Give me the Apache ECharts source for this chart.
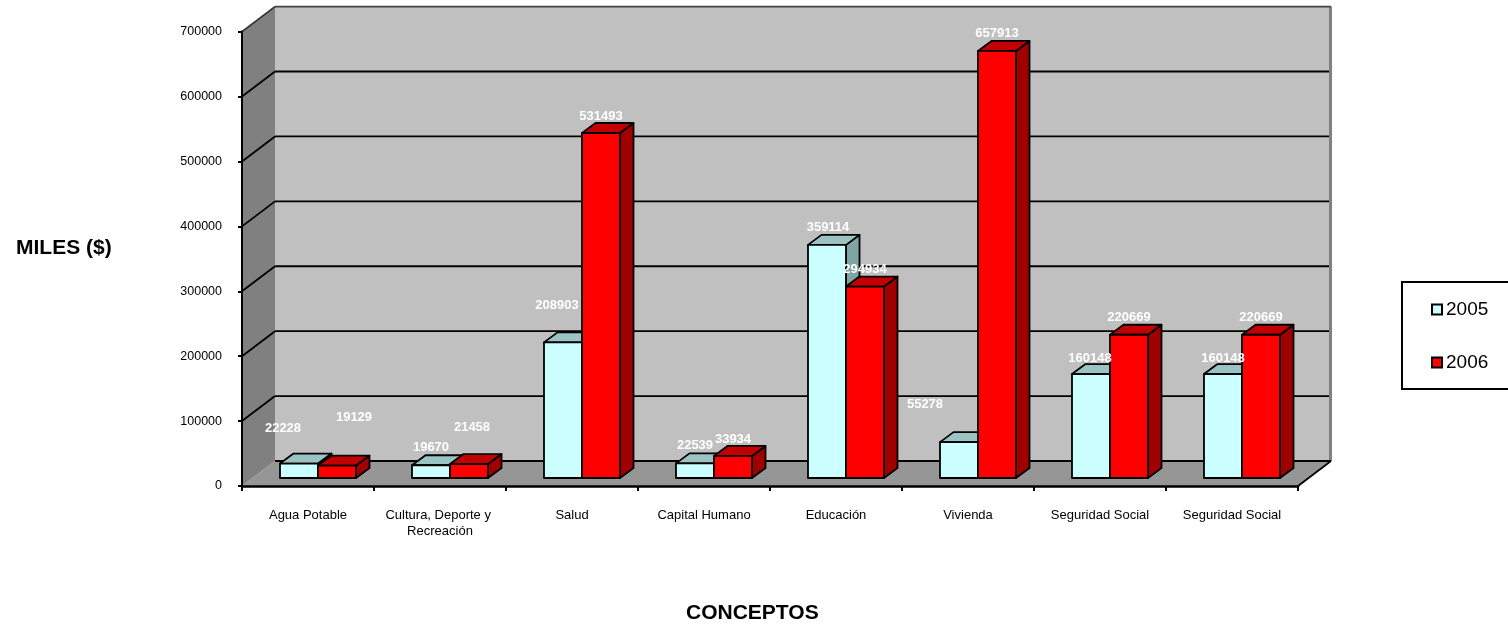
<!DOCTYPE html>
<html><head><meta charset="utf-8">
<style>html,body{margin:0;padding:0;background:#fff}#c{width:1508px;height:627px}</style>
<script src="https://cdn.jsdelivr.net/npm/echarts@6/dist/echarts.min.js"></script>
</head><body><div id="c"></div>
<script>
const categories = ['Agua Potable','Cultura, Deporte y Recreación','Salud','Capital Humano','Educación','Vivienda','Seguridad Social','Seguridad Social'];
const values2005 = [22228,19670,208903,22539,359114,55278,160148,160148];
const values2006 = [19129,21458,531493,33934,294934,657913,220669,220669];
const yTicks = [100000,200000,300000,400000,500000,600000,700000];
// where each white data label sits relative to the top of its bar (as in the source chart)
const labelShift2005 = [[-16,-35],[0,-18],[-6,-37],[0,-18],[1,-17],[-34,-38],[-1,-16],[0,-16]];
const labelShift2006 = [[17,-48],[3,-37],[0,-17],[0,-17],[0,-17],[0,-17],[0,-17],[0,-17]];

const WALL_DX = 33, WALL_DY = -25;      // depth of the 3D box
const BAR_DX = 13.5, BAR_DY = -10;      // depth of one bar
const BASE_DX = 10, BASE_DY = -8;       // bars stand this far back on the floor
const BAR_W = 38 / 132;                 // bar width as share of a category band
const FONT = '"Liberation Sans", Arial, sans-serif';

function poly(points, fill, stroke, lw, z2) {
  return {type:'polygon', z2: z2||0, shape:{points}, style:{fill, stroke: stroke||'none', lineWidth: lw||0, lineJoin:'round'}};
}
function line(x1,y1,x2,y2,stroke,lw,z2){
  return {type:'line', z2: z2||1, shape:{x1,y1,x2,y2}, style:{stroke, lineWidth:lw}};
}

function renderWalls(params, api) {
  const g = params.coordSys, x0 = g.x, x1 = g.x + g.width, yB = g.y + g.height, yT = g.y;
  const d = [WALL_DX, WALL_DY];
  return {type:'group', children:[
    poly([[x0+d[0],yT+d[1]],[x1+d[0],yT+d[1]],[x1+d[0],yB+d[1]],[x0+d[0],yB+d[1]]], '#C0C0C0'),
    poly([[x0,yB],[x0+d[0],yB+d[1]],[x0+d[0],yT+d[1]],[x0,yT]], '#808080'),
    poly([[x0,yB],[x0+d[0],yB+d[1]],[x1+d[0],yB+d[1]],[x1,yB]], '#969696'),
    line(x1+d[0]-0.5,yT+d[1],x1+d[0]-0.5,yB+d[1],'#808080',3),
    line(x0+d[0],yB+d[1],x1+d[0],yB+d[1],'#000',1.8),
    line(x1,yB,x1+d[0],yB+d[1],'#000',1.8)
  ]};
}
function renderGrid(params, api) {
  const g = params.coordSys, x0 = g.x, x1 = g.x + g.width;
  const y = api.coord([0, api.value(1)])[1];
  const top = api.value(1) === 700000;
  return {type:'group', children:[
    line(x0,y,x0+WALL_DX,y+WALL_DY, top ? '#333' : '#000', 1.8),
    line(x0+WALL_DX,y+WALL_DY,x1+WALL_DX-(top?0:2),y+WALL_DY, top ? '#444' : '#000', 1.8)
  ]};
}
function barRenderer(slot, front, topC, sideC, shifts) {
  return function(params, api) {
    const i = api.value(0), v = api.value(1);
    const band = api.size([1,0])[0], w = band * BAR_W;
    const c = api.coord([i, v]), b = api.coord([i, 0]);
    const xl = c[0] + BASE_DX + (slot - 1) * w, xr = xl + w;
    const yt = c[1] + BASE_DY, yb = b[1] + BASE_DY;
    const dx = BAR_DX, dy = BAR_DY;
    const s = shifts[params.dataIndex];
    return {type:'group', children:[
      poly([[xr,yt],[xr+dx,yt+dy],[xr+dx,yb+dy],[xr,yb]], sideC, '#000', 1.8, 1),
      poly([[xl,yt],[xl+dx,yt+dy],[xr+dx,yt+dy],[xr,yt]], topC, '#000', 1.8, 1),
      poly([[xl,yt],[xr,yt],[xr,yb],[xl,yb]], front, '#000', 1.8, 2),
      {type:'text', z2:100, style:{text:String(v), x:(xl+xr)/2+s[0], y:yt+s[1], fill:'#fff',
        font:'bold 13px '+FONT, align:'center', verticalAlign:'middle'}}
    ]};
  };
}

const titleStyle = {fontFamily:FONT, fontWeight:'bold', fontSize:21, color:'#000'};
const chart = echarts.init(document.getElementById('c'), null, {renderer:'canvas'});
chart.setOption({
  animation:false,
  backgroundColor:'#fff',
  title:[
    {text:'MILES ($)', left:16, top:238, padding:0, textStyle:titleStyle},
    {text:'CONCEPTOS', left:686, top:603, padding:0, textStyle:titleStyle}
  ],
  grid:{left:242, top:31.6, width:1056, height:454.4, containLabel:false, outerBoundsMode:'none'},
  xAxis:{type:'category', data:categories, boundaryGap:true, z:5,
    axisLine:{show:true, lineStyle:{color:'#000', width:2.5}},
    axisTick:{show:true, length:5, alignWithLabel:false, lineStyle:{color:'#000', width:2}},
    axisLabel:{interval:0, color:'#000', fontFamily:FONT, fontSize:13, margin:21, width:124, overflow:'break', lineHeight:16},
    splitLine:{show:false}
  },
  yAxis:{type:'value', min:0, max:700000, interval:100000, z:5,
    axisLine:{show:true, lineStyle:{color:'#000', width:2}},
    axisTick:{show:true, length:4, lineStyle:{color:'#000', width:2}},
    axisLabel:{color:'#000', fontFamily:FONT, fontSize:12.5, margin:20, formatter:v=>String(v)},
    splitLine:{show:false}
  },
  legend:{left:1402, top:282, orient:'vertical', itemWidth:10, itemHeight:10, itemGap:34,
    padding:[18,25,17,29], borderColor:'#000', borderWidth:2, backgroundColor:'#fff',
    textStyle:{fontFamily:FONT, fontSize:19, color:'#000', padding:[0,0,0,-1]},
    data:[
      {name:'2005', icon:'rect', itemStyle:{color:'#CCFFFF', borderColor:'#000', borderWidth:2}},
      {name:'2006', icon:'rect', itemStyle:{color:'#FF0000', borderColor:'#000', borderWidth:2}}
    ]},
  series:[
    {type:'custom', name:'walls', silent:true, clip:false, z:1, renderItem:renderWalls, data:[[0,0]]},
    {type:'custom', name:'grid', silent:true, clip:false, z:1.5, renderItem:renderGrid,
      data:yTicks.map(t=>[0,t]), encode:{x:0,y:1}},
    {type:'custom', name:'2005', clip:false, z:2, itemStyle:{color:'#CCFFFF'},
      renderItem:barRenderer(0,'#CCFFFF','#9CC3C3','#80A3A3',labelShift2005),
      data:values2005.map((v,i)=>[i,v]), encode:{x:0,y:1}},
    {type:'custom', name:'2006', clip:false, z:2, itemStyle:{color:'#FF0000'},
      renderItem:barRenderer(1,'#FF0000','#C30000','#A00000',labelShift2006),
      data:values2006.map((v,i)=>[i,v]), encode:{x:0,y:1}}
  ]
});
</script></body></html>
